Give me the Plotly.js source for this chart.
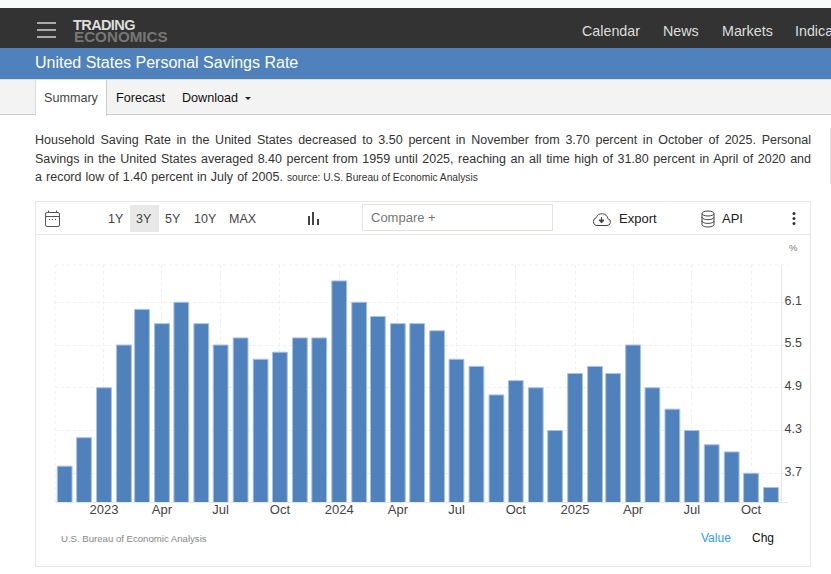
<!DOCTYPE html>
<html><head><meta charset="utf-8">
<script src="https://cdn.plot.ly/plotly-3.0.1.min.js"></script>
<style>
html,body{margin:0;padding:0;background:#fff;width:831px;height:574px;overflow:hidden;font-family:"Liberation Sans",Arial,sans-serif}
.a{position:absolute;white-space:nowrap}
.line{position:absolute;left:35px;width:776px;font-size:12.5px;color:#333;text-align:justify;text-align-last:justify;white-space:normal;height:18px;line-height:18px}
</style></head><body>
<div class="a" style="left:0;top:0;width:831px;height:8px;background:#f6fbfa"></div>
<div class="a" style="left:0;top:8px;width:831px;height:40px;background:#333"></div>
<div class="a" style="left:37px;top:22px;width:19px;height:2px;background:#aaa"></div>
<div class="a" style="left:37px;top:29px;width:19px;height:2px;background:#aaa"></div>
<div class="a" style="left:37px;top:36px;width:19px;height:2px;background:#aaa"></div>
<div class="a" style="left:73px;top:20px;font-size:14.5px;line-height:11px;font-weight:bold;color:#ddd;letter-spacing:-.6px">TRADING</div>
<div class="a" style="left:74px;top:31px;font-size:15.2px;line-height:12px;font-weight:bold;color:#777">ECONOMICS</div>
<div class="a" style="left:582px;top:23px;font-size:14.3px;color:#ddd">Calendar</div>
<div class="a" style="left:663px;top:23px;font-size:14.3px;color:#ddd">News</div>
<div class="a" style="left:722px;top:23px;font-size:14.3px;color:#ddd">Markets</div>
<div class="a" style="left:795px;top:23px;font-size:14.3px;color:#ddd">Indicators</div>
<div class="a" style="left:0;top:48px;width:831px;height:31px;background:#4f81bd"></div>
<div class="a" style="left:35px;top:53px;font-size:16px;line-height:20px;color:#fff">United States Personal Savings Rate</div>
<div class="a" style="left:0;top:79px;width:831px;height:36px;background:#f3f3f3;border-top:1px solid #ddd;border-bottom:1px solid #ccc;box-sizing:border-box"></div>
<div class="a" style="left:35px;top:80px;width:72px;height:36px;background:#fff;border-left:1px solid #ddd;border-right:1px solid #ccc;box-sizing:border-box"></div>
<div class="a" style="left:44px;top:91px;font-size:12.6px;color:#444">Summary</div>
<div class="a" style="left:116px;top:91px;font-size:12.6px;color:#111">Forecast</div>
<div class="a" style="left:182px;top:91px;font-size:12.6px;color:#111">Download</div>
<div class="a" style="left:245px;top:97px;width:0;height:0;border-left:3px solid transparent;border-right:3px solid transparent;border-top:3px solid #222"></div>

<div class="line" style="top:131px">Household Saving Rate in the United States decreased to 3.50 percent in November from 3.70 percent in October of 2025. Personal</div>
<div class="line" style="top:150px">Savings in the United States averaged 8.40 percent from 1959 until 2025, reaching an all time high of 31.80 percent in April of 2020 and</div>
<div class="a" style="left:35px;top:168px;font-size:12.5px;line-height:18px;color:#333;word-spacing:.6px">a record low of 1.40 percent in July of 2005. <span style="font-size:10.2px;word-spacing:0">source: U.S. Bureau of Economic Analysis</span></div>
<div class="a" style="left:830px;top:128px;width:1px;height:56px;background:#e3e3e3"></div>

<div class="a" style="left:35px;top:201px;width:776px;height:366px;border:1px solid #e6e6e6;box-sizing:border-box"></div>
<div class="a" style="left:36px;top:234px;width:774px;height:1px;background:#e6e6e6"></div>
<svg class="a" style="left:44px;top:209px" width="18" height="20" viewBox="0 0 18 20" fill="none" stroke="#555" stroke-width="1">
<rect x="1.5" y="3.5" width="14" height="14" rx="1.5"/><line x1="1.5" y1="7.5" x2="15.5" y2="7.5"/><line x1="4.5" y1="1.5" x2="4.5" y2="4"/><line x1="12.5" y1="1.5" x2="12.5" y2="4"/><line x1="5" y1="10.5" x2="12" y2="10.5" stroke-dasharray="1 2"/></svg>
<div class="a" style="left:130px;top:205px;width:29px;height:27px;background:#e8e8e8"></div>
<div class="a" style="left:108px;top:212px;font-size:12.5px;color:#444">1Y</div>
<div class="a" style="left:136px;top:212px;font-size:12.5px;color:#444">3Y</div>
<div class="a" style="left:165px;top:212px;font-size:12.5px;color:#444">5Y</div>
<div class="a" style="left:194px;top:212px;font-size:12.5px;color:#444">10Y</div>
<div class="a" style="left:229px;top:212px;font-size:12.5px;color:#444">MAX</div>
<svg class="a" style="left:307px;top:211px" width="13" height="15" fill="#444"><rect x="1" y="5" width="2" height="9"/><rect x="5" y="1" width="2" height="13"/><rect x="10" y="8" width="2" height="6"/></svg>
<div class="a" style="left:362px;top:204px;width:191px;height:27px;border:1px solid #e4e4dc;box-sizing:border-box"></div>
<div class="a" style="left:371px;top:210px;font-size:13px;color:#777">Compare +</div>
<svg class="a" style="left:591px;top:210px" width="21" height="17" fill="none" stroke="#444" stroke-width="1"><path d="M5 15.5H16a3.5 3.5 0 0 0 .8-6.9 6 6 0 0 0-11.5-1A4.2 4.2 0 0 0 5 15.5z"/><path d="M10.5 7v5M8 10l2.5 3L13 10z" fill="#444"/></svg>
<div class="a" style="left:619px;top:211px;font-size:13px;color:#222">Export</div>
<svg class="a" style="left:700px;top:210px" width="16" height="18" fill="none" stroke="#444" stroke-width="1"><ellipse cx="8" cy="3.5" rx="6" ry="2.5"/><path d="M2 3.5V14.5C2 16 5 17 8 17s6-1 6-2.500V3.500M2 7.200C2 8.700 5 9.700 8 9.700s6-1 6-2.500M2 10.900C2 12.400 5 13.400 8 13.400s6-1 6-2.500"/></svg>
<div class="a" style="left:722px;top:211px;font-size:13px;color:#222">API</div>
<svg class="a" style="left:791px;top:211px" width="6" height="15" fill="#333"><circle cx="3" cy="2.500" r="1.500"/><circle cx="3" cy="7.500" r="1.500"/><circle cx="3" cy="12.500" r="1.500"/></svg>

<div id="chart" class="a" style="left:36px;top:235px;width:774px;height:331px"></div>
<script>
var months = ["2022-11-01","2022-12-01",
"2023-01-01","2023-02-01","2023-03-01","2023-04-01","2023-05-01","2023-06-01","2023-07-01","2023-08-01","2023-09-01","2023-10-01","2023-11-01","2023-12-01",
"2024-01-01","2024-02-01","2024-03-01","2024-04-01","2024-05-01","2024-06-01","2024-07-01","2024-08-01","2024-09-01","2024-10-01","2024-11-01","2024-12-01",
"2025-01-01","2025-02-01","2025-03-01","2025-04-01","2025-05-01","2025-06-01","2025-07-01","2025-08-01","2025-09-01","2025-10-01","2025-11-01"];
var savingsRate = [3.8,4.2,
4.9,5.5,6.0,5.8,6.1,5.8,5.5,5.6,5.3,5.4,5.6,5.6,
6.4,6.1,5.9,5.8,5.8,5.7,5.3,5.2,4.8,5.0,4.9,4.3,
5.1,5.2,5.1,5.5,4.9,4.6,4.3,4.1,4.0,3.7,3.5];
var xTickVals = ["2023-01-01","2023-04-01","2023-07-01","2023-10-01","2024-01-01","2024-04-01","2024-07-01","2024-10-01","2025-01-01","2025-04-01","2025-07-01","2025-10-01"];
var xTickText = ["2023","Apr","Jul","Oct","2024","Apr","Jul","Oct","2025","Apr","Jul","Oct"];
var yTickVals = [3.7,4.3,4.9,5.5,6.1];
var yTickText = ["3.7","4.3","4.9","5.5","6.1"];
var sourceText = "U.S. Bureau of Economic Analysis";

var gridCol = "#efefef", axisCol = "#e6e6e6", tickCol = "#444";
Plotly.newPlot("chart", [{
  type:"bar", x:months, y:savingsRate,
  marker:{color:"#4f81bd", line:{color:"#a9c2e3", width:1}},
  hoverinfo:"x+y"
}], {
  width:774, height:331, showlegend:false,
  margin:{l:19,r:22,t:30,b:64,pad:0},
  paper_bgcolor:"rgba(0,0,0,0)", plot_bgcolor:"rgba(0,0,0,0)",
  bargap:0.18,
  font:{family:'"Liberation Sans",Arial,sans-serif'},
  xaxis:{type:"date", range:["2022-10-17","2025-11-27 10:00"], tickmode:"array", tickvals:xTickVals, ticktext:xTickText,
    showgrid:true, gridcolor:gridCol, griddash:"dot", gridwidth:1, zeroline:false, showline:true, linecolor:axisCol, linewidth:1,
    ticks:"", tickangle:0, tickfont:{size:13,color:tickCol}, ticklabelstandoff:-5, fixedrange:true},
  yaxis:{range:[3.297,6.623], tickmode:"array", tickvals:yTickVals, ticktext:yTickText, side:"right", anchor:"free", position:0.9905,
    showgrid:true, gridcolor:gridCol, griddash:"dot", gridwidth:1, zeroline:false, showline:true, linecolor:axisCol, linewidth:1,
    ticks:"", tickfont:{size:12.5,color:tickCol}, ticklabelshift:-2, fixedrange:true},
  shapes:[
    {type:"line", xref:"paper", yref:"paper", x0:0, x1:1, y0:1, y1:1, line:{color:gridCol,width:1,dash:"dot"}},
    {type:"line", xref:"paper", yref:"paper", x0:0, x1:0, y0:0, y1:1, line:{color:gridCol,width:1,dash:"dot"}}
  ],
  annotations:[
    {xref:"paper", yref:"paper", x:1.0, y:1.0, yshift:25, xanchor:"left", xshift:-1, text:"%", showarrow:false, font:{size:9.5,color:"#777"}},
    {xref:"paper", yref:"paper", x:0, y:0, xshift:3.5, yshift:-36, xanchor:"left", yanchor:"middle", text:sourceText, showarrow:false, font:{size:9.6,color:"#888"}},
    {xref:"paper", yref:"paper", x:1, y:0, xshift:-55, yshift:-36, xanchor:"right", yanchor:"middle", text:"Value", showarrow:false, font:{size:12,color:"#2e9bf5"}},
    {xref:"paper", yref:"paper", x:1, y:0, xshift:-12.5, yshift:-36, xanchor:"right", yanchor:"middle", text:"Chg", showarrow:false, font:{size:12,color:"#111"}}
  ]
}, {displayModeBar:false, responsive:false});
</script>
</body></html>
